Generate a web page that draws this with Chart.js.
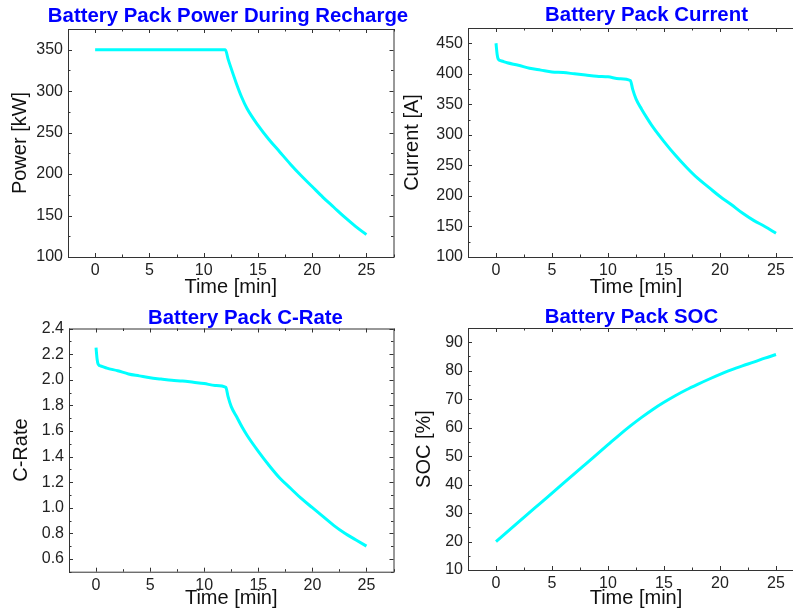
<!DOCTYPE html>
<html>
<head>
<meta charset="utf-8">
<title>Battery Pack Recharge</title>
<script src="https://cdn.jsdelivr.net/npm/chart.js@4.4.1/dist/chart.umd.min.js"></script>
<style>
  html, body { margin: 0; padding: 0; background: #fff; overflow: hidden; }
  #wrap { position: relative; width: 793px; height: 615px; overflow: hidden; }
  canvas { position: absolute; }
</style>
</head>
<body>
<div id="wrap">
  <canvas id="power-chart" width="420" height="300" style="left:0;top:0"></canvas>
  <canvas id="current-chart" width="410" height="300" style="left:400px;top:0"></canvas>
  <canvas id="crate-chart" width="400" height="315" style="left:0;top:300px"></canvas>
  <canvas id="soc-chart" width="410" height="315" style="left:400px;top:300px"></canvas>
</div>
<script>
// values
const powerTime = [0, 12, 12.25, 12.5, 13, 13.5, 14, 15, 16, 17, 18, 19, 20, 21, 22, 23, 24, 25];
const powerKW = [350, 350, 339, 329, 310, 293, 279, 259, 242, 227, 212, 198, 185, 172, 160, 148, 137, 127];

const currentTime = [0, 0.1, 0.2, 0.5, 1, 2, 3, 4, 5, 6, 7, 8, 9, 10, 11, 12, 12.2, 12.5, 13, 13.5, 14, 15, 16, 17, 18, 19, 20, 21, 22, 23, 24, 25];
const currentA = [450, 432, 424, 421, 418, 414, 409, 406, 403, 402, 400, 398, 396, 395, 392, 389, 375, 359, 342, 327, 313, 289, 267, 247, 229, 214, 199, 186, 172, 160, 150, 139];

const crateTime = [0, 0.1, 0.2, 0.5, 1, 2, 3, 4, 5, 6, 7, 8, 9, 10, 11, 12, 12.2, 12.5, 13, 13.5, 14, 15, 16, 17, 18, 19, 20, 21, 22, 23, 24, 25];
const cRate = [2.25, 2.16, 2.12, 2.105, 2.09, 2.07, 2.045, 2.03, 2.015, 2.005, 1.995, 1.99, 1.98, 1.97, 1.955, 1.94, 1.87, 1.79, 1.71, 1.63, 1.56, 1.44, 1.33, 1.23, 1.15, 1.07, 1.00, 0.93, 0.86, 0.80, 0.75, 0.70];

const socTime = [0, 2, 4, 6, 8, 10, 11, 12, 13, 14, 15, 16, 17, 18, 19, 20, 21, 22, 23, 24, 25];
const socPct = [20, 26.8, 33.6, 40.4, 47.2, 54, 57.4, 60.6, 63.6, 66.4, 68.9, 71.2, 73.3, 75.2, 77, 78.7, 80.3, 81.7, 83, 84.4, 85.7];

const FONT = '"Liberation Sans", Arial, sans-serif';
Chart.defaults.font.family = FONT;
Chart.defaults.color = '#222';

// box round the plot with inward ticks on all four sides
const framePlugin = {
    id: 'frame',
    afterDatasetsDraw(chart) {
        const { ctx, chartArea: a, scales } = chart;
        ctx.save();
        ctx.strokeStyle = '#333';
        ctx.lineWidth = 1;
        ctx.strokeRect(a.left + 0.5, a.top + 0.5, a.right - a.left, a.bottom - a.top);
        ctx.beginPath();
        scales.x.ticks.forEach(t => {
            const px = Math.round(scales.x.getPixelForValue(t.value)) + 0.5;
            const len = t.label !== '' ? 4 : 2.5;
            ctx.moveTo(px, a.bottom); ctx.lineTo(px, a.bottom - len);
            ctx.moveTo(px, a.top); ctx.lineTo(px, a.top + len);
        });
        scales.y.ticks.forEach(t => {
            const py = Math.round(scales.y.getPixelForValue(t.value)) + 0.5;
            const len = t.label !== '' ? 4 : 2.5;
            ctx.moveTo(a.left, py); ctx.lineTo(a.left + len, py);
            ctx.moveTo(a.right, py); ctx.lineTo(a.right - len, py);
        });
        ctx.stroke();
        ctx.restore();
    }
};

const panelTitle = {
    id: 'panelTitle',
    afterDraw(chart, args, opts) {
        const ctx = chart.ctx;
        ctx.save();
        ctx.font = 'bold 20.4px ' + FONT;
        ctx.fillStyle = '#0000ff';
        ctx.textAlign = 'center';
        ctx.textBaseline = 'alphabetic';
        ctx.fillText(opts.text, opts.x, opts.y);
        ctx.restore();
    }
};

const makePanel = (id, p) => {
    const points = p.xs.map((x, i) => ({ x: x, y: p.ys[i] }));
    return new Chart(document.getElementById(id), {
        type: 'line',
        data: {
            datasets: [{
                data: points,
                borderColor: '#00ffff',
                borderWidth: 3,
                pointRadius: 0,
                cubicInterpolationMode: 'monotone',
                fill: false
            }]
        },
        options: {
            responsive: false,
            animation: false,
            events: [],
            layout: { padding: p.padding },
            plugins: {
                legend: { display: false },
                tooltip: { enabled: false },
                panelTitle: p.title
            },
            scales: {
                x: {
                    type: 'linear',
                    min: -2.5,
                    max: 27.5,
                    afterFit: s => { s.height = p.xHeight; },
                    grid: { display: false, drawTicks: false },
                    border: { display: false },
                    ticks: {
                        stepSize: 2.5,
                        padding: 4,
                        maxRotation: 0,
                        autoSkip: false,
                        font: { size: 16 },
                        callback: v => (v >= 0 && v <= 25 && v % 5 === 0) ? String(v) : ''
                    },
                    title: {
                        display: true,
                        text: 'Time [min]',
                        color: '#111',
                        font: { size: 20 },
                        padding: { top: 0, bottom: p.xTitlePad }
                    }
                },
                y: {
                    min: p.yMin,
                    max: p.yMax,
                    afterFit: s => { s.width = p.yWidth; },
                    grid: { display: false, drawTicks: false },
                    border: { display: false },
                    ticks: {
                        stepSize: p.yStep,
                        padding: 5,
                        autoSkip: false,
                        font: { size: 16 },
                        callback: p.yLabel
                    },
                    title: {
                        display: true,
                        text: p.yTitle,
                        color: '#111',
                        font: { size: 20 },
                        padding: { top: p.yTitlePad, bottom: 0 }
                    }
                }
            }
        },
        plugins: [framePlugin, panelTitle]
    });
};

makePanel('power-chart', {
    xs: powerTime, ys: powerKW,
    yMin: 100, yMax: 375, yStep: 25,
    yLabel: v => v % 50 === 0 ? String(v) : '',
    yTitle: 'Power [kW]',
    padding: { top: 29, right: 26.5, bottom: 0, left: 0 },
    yWidth: 68, xHeight: 43, yTitlePad: 8, xTitlePad: 1,
    title: { text: 'Battery Pack Power During Recharge', x: 228, y: 21.5 }
});

makePanel('current-chart', {
    xs: currentTime, ys: currentA,
    yMin: 100, yMax: 475, yStep: 25,
    yLabel: v => v % 50 === 0 ? String(v) : '',
    yTitle: 'Current [A]',
    padding: { top: 28, right: 6, bottom: 0, left: 0 },
    yWidth: 68, xHeight: 43, yTitlePad: 0, xTitlePad: 1,
    title: { text: 'Battery Pack Current', x: 246.5, y: 21 }
});

makePanel('crate-chart', {
    xs: crateTime, ys: cRate,
    yMin: 0.5, yMax: 2.4, yStep: 0.1,
    yLabel: v => Math.round(v * 10) % 2 === 0 ? v.toFixed(1) : '',
    yTitle: 'C-Rate',
    padding: { top: 28.5, right: 6.5, bottom: 0, left: 0 },
    yWidth: 69, xHeight: 43.3, yTitlePad: 9, xTitlePad: 5,
    title: { text: 'Battery Pack C-Rate', x: 245.5, y: 24 }
});

makePanel('soc-chart', {
    xs: socTime, ys: socPct,
    yMin: 10, yMax: 95, yStep: 5,
    yLabel: v => v % 10 === 0 ? String(v) : '',
    yTitle: 'SOC [%]',
    padding: { top: 28, right: 6, bottom: 0, left: 0 },
    yWidth: 68, xHeight: 45, yTitlePad: 12, xTitlePad: 5,
    title: { text: 'Battery Pack SOC', x: 231.5, y: 22.5 }
});
</script>
</body>
</html>
